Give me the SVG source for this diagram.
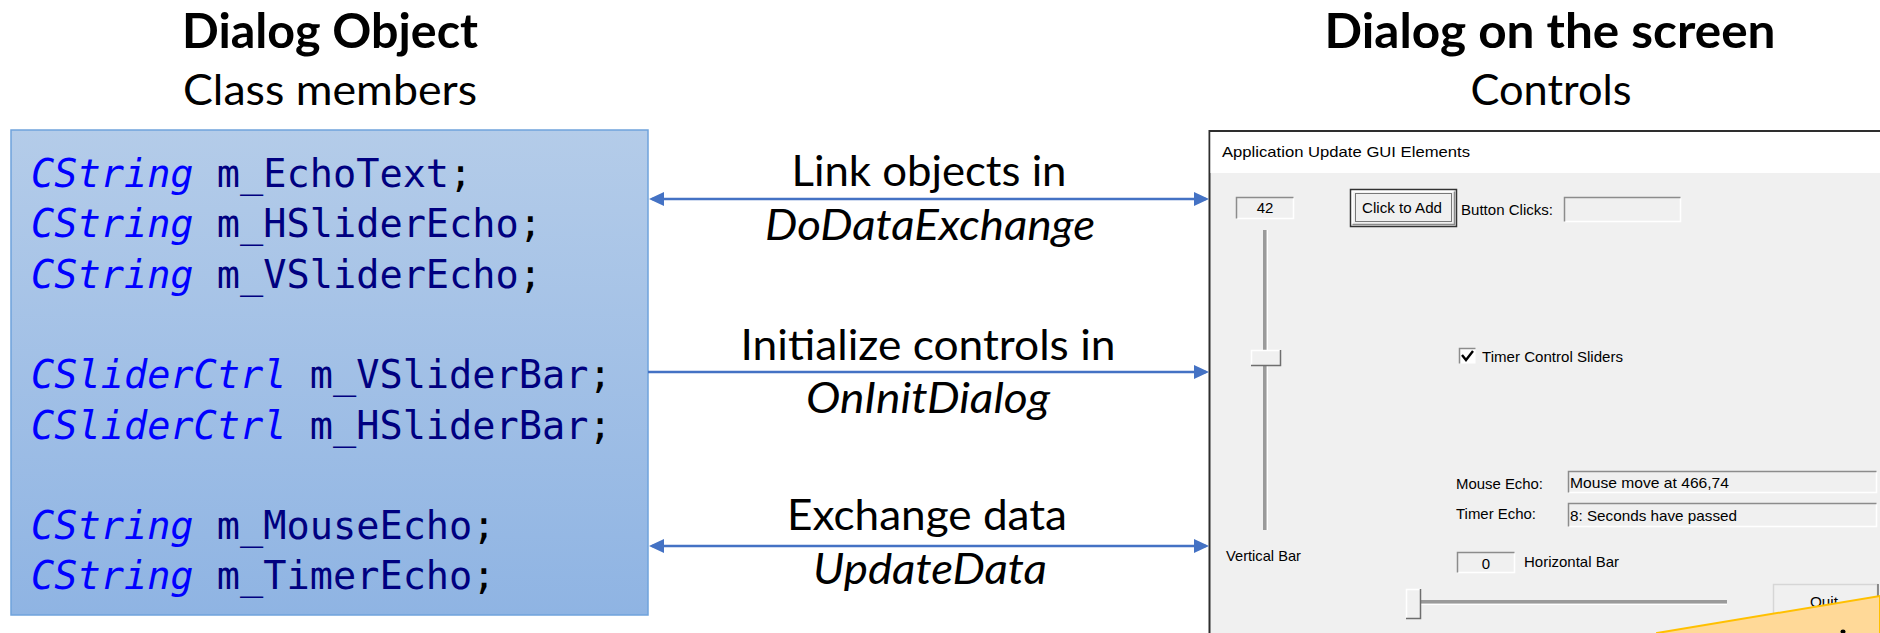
<svg xmlns="http://www.w3.org/2000/svg" width="1880" height="633" viewBox="0 0 1880 633">
<style>
.title{font-family:Lato,"Liberation Sans",sans-serif;font-weight:bold;font-size:48px;fill:#000;text-anchor:middle}
.sub{font-family:Lato,"Liberation Sans",sans-serif;font-size:43px;fill:#000;text-anchor:middle}
.lbl{font-family:Lato,"Liberation Sans",sans-serif;font-size:43px;fill:#000;text-anchor:middle}
.it{font-style:italic}
.code{font-family:"DejaVu Sans Mono","Liberation Mono",monospace;font-size:38.6px;white-space:pre}
.ty{fill:#0000ff;font-style:italic}
.nm{fill:#000080}
.sc{fill:#000}
.ui{font-family:"Liberation Sans",Arial,sans-serif;font-size:15px;fill:#000}
.conn{stroke:#4472c4;stroke-width:2.5;fill:none}
.dk{stroke:#8c8c8c;stroke-width:1.5;fill:none}
.lt{stroke:#ffffff;stroke-width:1.5;fill:none}
.face{fill:#f0f0f0}
</style>
<defs>
<linearGradient id="boxgrad" x1="0" y1="0" x2="0" y2="1">
<stop offset="0" stop-color="#b4cce9"/>
<stop offset="1" stop-color="#8fb4e3"/>
</linearGradient>
<marker id="ah" viewBox="0 0 15 14" refX="12" refY="7" markerWidth="15" markerHeight="14" markerUnits="userSpaceOnUse" orient="auto-start-reverse">
<path d="M0,0 L15,7 L0,14 z" fill="#4472c4"/>
</marker>
</defs>
<rect width="1880" height="633" fill="#ffffff"/>

<g id="title-left">
<text class="title" x="330" y="48" textLength="296" lengthAdjust="spacingAndGlyphs">Dialog Object</text>
<text class="sub" x="330" y="105" textLength="294" lengthAdjust="spacingAndGlyphs">Class members</text>
</g>

<g id="title-right">
<text class="title" x="1550" y="48" textLength="451" lengthAdjust="spacingAndGlyphs">Dialog on the screen</text>
<text class="sub" x="1551" y="105" textLength="161" lengthAdjust="spacingAndGlyphs">Controls</text>
</g>

<g id="dialog-object">
<rect x="11" y="130" width="637" height="485" fill="url(#boxgrad)" stroke="#6fa3dc" stroke-width="1.5"/>
<text class="code" x="31" y="187"><tspan class="ty">CString</tspan><tspan class="nm"> m_EchoText</tspan><tspan class="sc">;</tspan></text>
<text class="code" x="31" y="237"><tspan class="ty">CString</tspan><tspan class="nm"> m_HSliderEcho</tspan><tspan class="sc">;</tspan></text>
<text class="code" x="31" y="288"><tspan class="ty">CString</tspan><tspan class="nm"> m_VSliderEcho</tspan><tspan class="sc">;</tspan></text>
<text class="code" x="31" y="388"><tspan class="ty">CSliderCtrl</tspan><tspan class="nm"> m_VSliderBar</tspan><tspan class="sc">;</tspan></text>
<text class="code" x="31" y="439"><tspan class="ty">CSliderCtrl</tspan><tspan class="nm"> m_HSliderBar</tspan><tspan class="sc">;</tspan></text>
<text class="code" x="31" y="539"><tspan class="ty">CString</tspan><tspan class="nm"> m_MouseEcho</tspan><tspan class="sc">;</tspan></text>
<text class="code" x="31" y="589"><tspan class="ty">CString</tspan><tspan class="nm"> m_TimerEcho</tspan><tspan class="sc">;</tspan></text>
</g>

<g id="dialog-screen">
<rect x="1209.5" y="131" width="700" height="520" fill="#f0f0f0" stroke="#2e2e2e" stroke-width="2"/>
<rect x="1210.5" y="132" width="680" height="41" fill="#ffffff"/>
<text class="ui" x="1222" y="157" font-size="16" textLength="248" lengthAdjust="spacingAndGlyphs">Application Update GUI Elements</text>

<g id="edit-42">
<rect x="1236" y="197" width="58" height="22" class="face"/>
<path class="lt" d="M1236.5,218.5 H1293.5 V197.5"/>
<path class="dk" d="M1236.5,218.5 V197.5 H1293.5"/>
<text class="ui" x="1265" y="213" text-anchor="middle">42</text>
</g>

<g id="btn-add">
<rect x="1350.5" y="189.5" width="106" height="37" fill="#f0f0f0" stroke="#333" stroke-width="1.5"/>
<path class="lt" d="M1352.5,224 V191.5 H1454"/>
<path class="dk" d="M1352.5,224.5 H1454.5 V191.5"/>
<rect x="1355.5" y="193.5" width="96" height="28" fill="none" stroke="#000" stroke-width="1" stroke-dasharray="1,1"/>
<text class="ui" x="1362" y="213" textLength="80" lengthAdjust="spacingAndGlyphs">Click to Add</text>
</g>

<text class="ui" x="1461" y="215" textLength="92" lengthAdjust="spacingAndGlyphs">Button Clicks:</text>
<g id="edit-clicks">
<rect x="1564" y="197" width="117" height="25" class="face"/>
<path class="lt" d="M1564.5,221.5 H1680.5 V197.5"/>
<path class="dk" d="M1564.5,221.5 V197.5 H1680.5"/>
</g>

<g id="vslider">
<rect x="1263" y="230" width="3.5" height="300" fill="#9a9a9a"/>
<line x1="1267.5" y1="230" x2="1267.5" y2="530" stroke="#ffffff" stroke-width="1"/>
<rect x="1251" y="350" width="30" height="16" class="face"/>
<path class="lt" d="M1251.5,365 V350.5 H1280"/>
<path d="M1251,365.5 H1280.5 V350" stroke="#6e6e6e" stroke-width="1.5" fill="none"/>
</g>

<g id="check-timer">
<rect x="1459.5" y="348.5" width="16" height="15" fill="#ffffff"/>
<path class="dk" d="M1459.5,363.5 V348.5 H1475.5"/>
<path d="M1462,355 L1466,360 L1473,351" stroke="#000" stroke-width="2.4" fill="none"/>
<text class="ui" x="1482" y="362" textLength="141" lengthAdjust="spacingAndGlyphs">Timer Control Sliders</text>
</g>

<text class="ui" x="1456" y="489" textLength="87" lengthAdjust="spacingAndGlyphs">Mouse Echo:</text>
<g id="edit-mouse">
<rect x="1568" y="471" width="312" height="22" class="face"/>
<path class="lt" d="M1568.5,492.5 H1876.5 V471.5"/>
<path class="dk" d="M1568.5,492.5 V471.5 H1876.5"/>
<text class="ui" x="1570" y="488" textLength="159" lengthAdjust="spacingAndGlyphs">Mouse move at 466,74</text>
</g>

<text class="ui" x="1456" y="519" textLength="80" lengthAdjust="spacingAndGlyphs">Timer Echo:</text>
<g id="edit-timer">
<rect x="1568" y="503" width="312" height="24" class="face"/>
<path class="lt" d="M1568.5,526.5 H1876.5 V503.5"/>
<path class="dk" d="M1568.5,526.5 V503.5 H1876.5"/>
<text class="ui" x="1570" y="521" textLength="167" lengthAdjust="spacingAndGlyphs">8: Seconds have passed</text>
</g>

<text class="ui" x="1226" y="561" textLength="75" lengthAdjust="spacingAndGlyphs">Vertical Bar</text>

<g id="edit-0">
<rect x="1457" y="552" width="58" height="21" class="face"/>
<path class="lt" d="M1457.5,572.5 H1514.5 V552.5"/>
<path class="dk" d="M1457.5,572.5 V552.5 H1514.5"/>
<text class="ui" x="1486" y="569" text-anchor="middle">0</text>
</g>
<text class="ui" x="1524" y="567" textLength="95" lengthAdjust="spacingAndGlyphs">Horizontal Bar</text>

<g id="hslider">
<rect x="1421" y="600" width="306" height="3.5" fill="#9a9a9a"/>
<line x1="1421" y1="604.5" x2="1727" y2="604.5" stroke="#ffffff" stroke-width="1"/>
<rect x="1406" y="589" width="15" height="30" class="face"/>
<path class="lt" d="M1406.5,618 V589.5 H1420"/>
<path d="M1406,618.5 H1420.5 V589" stroke="#6e6e6e" stroke-width="1.5" fill="none"/>
</g>

<g id="btn-quit">
<rect x="1773.5" y="584.5" width="104" height="60" fill="#f0f0f0" stroke="#d6d6d6" stroke-width="1.5"/>
<line x1="1878" y1="584" x2="1878" y2="633" stroke="#6e6e6e" stroke-width="1.5"/>
<text class="ui" x="1810" y="607" textLength="28" lengthAdjust="spacingAndGlyphs">Quit</text>
</g>
</g>

<g id="callout">
<polygon points="1657,633 1880,596 1880,640 1657,640" fill="#ffd998" stroke="#ffc000" stroke-width="2"/>
<ellipse cx="1843" cy="631.5" rx="2.5" ry="2" fill="#000"/>
</g>

<g id="connectors">
<path class="conn" d="M652,199 H1206" marker-start="url(#ah)" marker-end="url(#ah)"/>
<path class="conn" d="M648,372 H1206" marker-end="url(#ah)"/>
<path class="conn" d="M652,546 H1206" marker-start="url(#ah)" marker-end="url(#ah)"/>
<text class="lbl" x="929" y="186" textLength="275" lengthAdjust="spacingAndGlyphs">Link objects in</text>
<text class="lbl it" x="930" y="240" textLength="330" lengthAdjust="spacingAndGlyphs">DoDataExchange</text>
<text class="lbl" x="928" y="360" textLength="375" lengthAdjust="spacingAndGlyphs">Initialize controls in</text>
<text class="lbl it" x="928" y="413" textLength="244" lengthAdjust="spacingAndGlyphs">OnInitDialog</text>
<text class="lbl" x="927" y="530" textLength="280" lengthAdjust="spacingAndGlyphs">Exchange data</text>
<text class="lbl it" x="930" y="584" textLength="234" lengthAdjust="spacingAndGlyphs">UpdateData</text>
</g>
</svg>
